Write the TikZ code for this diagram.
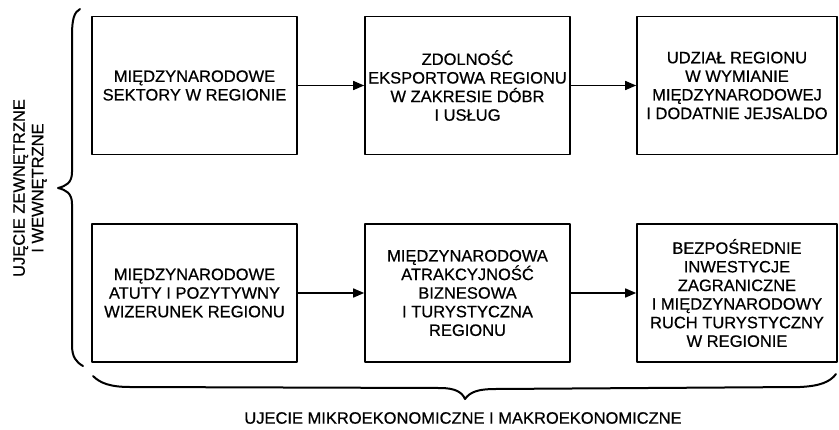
\documentclass[tikz,border=0pt]{standalone}
\usepackage{fontspec}
\setmainfont{Liberation Sans}[FakeBold=0.6]
\usetikzlibrary{arrows.meta}

\begin{document}
\begin{tikzpicture}[x=1pt, y=-1pt, line join=round, line cap=round, >={Triangle[length=11pt, width=9pt]},
		font=\fontsize{16.5}{18.6}\selectfont,
		blok/.style={draw, line width=1.6pt, align=center, inner sep=2pt, minimum width=205pt, minimum height=138pt},
		strz/.style={->, line width=1.5pt},
		klamra/.style={line width=2pt}]
		
		\useasboundingbox (0,0) rectangle (839,429);
		
		% Górny rząd bloków
		\node[blok] (MS) at (194.5,85.5) {MIĘDZYNARODOWE\\SEKTORY W REGIONIE};
		\node[blok] (ZE) at (467.5,85.5) {ZDOLNOŚĆ\\EKSPORTOWA REGIONU\\W ZAKRESIE DÓBR\\I USŁUG};
		\node[blok, minimum width=200pt] (UR) at (737,85.5) {UDZIAŁ REGIONU\\W WYMIANIE\\MIĘDZYNARODOWEJ\\I DODATNIE JEJSALDO};
		
		% Dolny rząd bloków
		\node[blok] (MA) at (194.5,293) {MIĘDZYNARODOWE\\ATUTY I POZYTYWNY\\WIZERUNEK REGIONU};
		\node[blok] (AT) at (467.5,293) {MIĘDZYNARODOWA\\ATRAKCYJNOŚĆ\\BIZNESOWA\\I TURYSTYCZNA\\REGIONU};
		\node[blok, minimum width=200pt] (BI) at (737,293) {BEZPOŚREDNIE\\INWESTYCJE\\ZAGRANICZNE\\I MIĘDZYNARODOWY\\RUCH TURYSTYCZNY\\W REGIONIE};
		
		% Strzałki
		\draw[strz] (MS) -- (ZE);
		\draw[strz] (ZE) -- (UR);
		\draw[strz] (MA) -- (AT);
		\draw[strz] (AT) -- (BI);
		
		% Klamra lewa
		\draw[klamra] (80,9) .. controls (74,12) and (72,20) .. (72,35) -- (72,172)
			.. controls (72,183) and (66,186) .. (58,188) .. controls (66,190) and (72,193) .. (72,204)
			-- (72,345) .. controls (72,357) and (76,362) .. (83,366);
		\node[rotate=90, align=center] (UZ) at (30,188) {UJĘCIE ZEWNĘTRZNE\\I WEWNĘTRZNE};
		
		% Klamra dolna
		\draw[klamra] (93,376) .. controls (100,383) and (110,387) .. (130,387) -- (440,388)
			.. controls (455,388) and (462,392) .. (465,399) .. controls (470,392) and (478,389) .. (495,389)
			-- (800,387) .. controls (820,386) and (830,382) .. (836,374);
		\node (UM) at (463,418) {UJECIE MIKROEKONOMICZNE I MAKROEKONOMICZNE};
		
\end{tikzpicture}
\end{document}
